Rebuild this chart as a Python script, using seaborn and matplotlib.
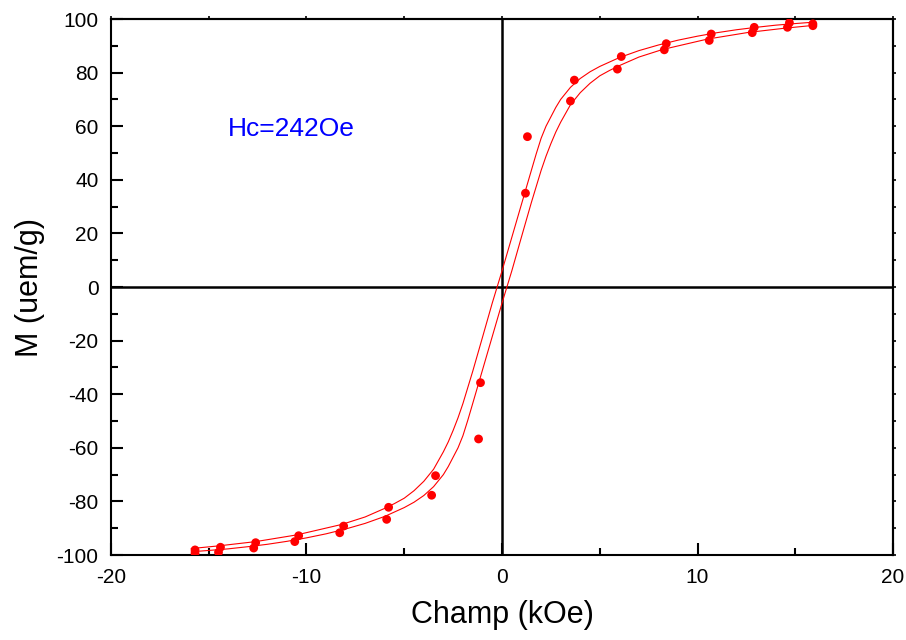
import numpy as np
import pandas as pd
import seaborn as sns
import matplotlib.pyplot as plt
from matplotlib.ticker import MultipleLocator

# measured points, descending-field branch
h_down = [15.9, 14.7, 12.9, 10.7, 8.4, 6.1, 3.7, 1.3, -1.1, -3.4, -5.8, -8.1, -10.4, -12.6, -14.4, -15.7]
m_down = [98.2, 98.6, 96.9, 94.4, 90.8, 86.0, 77.2, 56.1, -35.7, -70.4, -82.2, -89.2, -92.8, -95.4, -97.1, -98.1]
# measured points, ascending-field branch
h_up = [-15.7, -14.5, -12.7, -10.6, -8.3, -5.9, -3.6, -1.2, 1.2, 3.5, 5.9, 8.3, 10.6, 12.8, 14.6, 15.9]
m_up = [-99.4, -99.0, -97.4, -95.0, -91.7, -86.7, -77.7, -56.7, 35.0, 69.4, 81.3, 88.5, 92.0, 94.9, 96.9, 97.5]

# fitted curves
fit_a_h = [-15.9, -14.5, -12.6, -10.5, -8.2, -7.0, -6.0, -5.5, -5.0, -4.5, -4.0, -3.5, -3.0, -2.75, -2.5,
           -2.25, -2.0, -1.5, -1.0, -0.5, 0.0, 0.5, 1.0, 1.5, 1.75, 2.0, 2.25, 2.5, 2.75, 3.0, 3.5, 4.0,
           4.5, 5.0, 6.0, 7.0, 8.0, 9.0, 10.0, 11.0, 12.0, 13.0, 14.0, 15.0, 15.9]
fit_a_m = [-97.6, -96.6, -95.0, -92.5, -88.6, -85.8, -82.6, -80.8, -78.8, -76.0, -72.5, -68.0, -61.5, -57.8, -53.5,
           -48.8, -43.5, -31.5, -18.8, -6.0, 6.0, 18.5, 31.0, 43.5, 49.7, 55.5, 60.0, 63.5, 67.0, 70.0, 74.5, 77.8,
           80.3, 82.3, 85.6, 88.2, 90.3, 92.1, 93.6, 94.9, 96.0, 96.9, 97.7, 98.3, 98.8]
fit_b_h = [-15.9, -15.0, -14.0, -13.0, -12.0, -11.0, -10.0, -9.0, -8.0, -7.0, -6.0, -5.0, -4.5, -4.0,
           -3.5, -3.0, -2.75, -2.5, -2.25, -2.0, -1.75, -1.5, -1.0, -0.5, 0.0, 0.5, 1.0, 1.5, 2.0, 2.25, 2.5,
           2.75, 3.0, 3.5, 4.0, 4.5, 5.0, 5.5, 6.0, 7.0, 8.2, 10.5, 12.6, 14.5, 15.9]
fit_b_m = [-98.8, -98.3, -97.7, -96.9, -96.0, -94.9, -93.6, -92.1, -90.3, -88.2, -85.6, -82.3, -80.3, -77.8,
           -74.5, -70.0, -67.0, -63.5, -60.0, -55.5, -49.7, -43.5, -31.0, -18.5, -6.0, 6.0, 18.8, 31.5, 43.5, 48.8, 53.5,
           57.8, 61.5, 68.0, 72.5, 76.0, 78.8, 80.8, 82.6, 85.8, 88.6, 92.5, 95.0, 96.6, 97.6]

sns.set_style("ticks")
plt.rcParams['font.family'] = ['Liberation Sans', 'DejaVu Sans']
plt.rcParams['axes.unicode_minus'] = False
plt.rcParams['text.color'] = 'black'
plt.rcParams['axes.labelcolor'] = 'black'
plt.rcParams['xtick.color'] = 'black'
plt.rcParams['ytick.color'] = 'black'

fig = plt.figure(figsize=(9.06, 6.4), dpi=100)
ax = fig.add_axes([0.1225, 0.1328, 0.8632, 0.8375])

ax.axhline(0, color='black', lw=1.8, zorder=1)
ax.axvline(0, color='black', lw=1.8, zorder=1)

sns.lineplot(x=fit_a_h, y=fit_a_m, sort=False, estimator=None, color='#ff0000', lw=0.8, ax=ax, zorder=2)
sns.lineplot(x=fit_b_h, y=fit_b_m, sort=False, estimator=None, color='#ff0000', lw=0.8, ax=ax, zorder=2)

pts = pd.DataFrame({'H': h_down + h_up, 'M': m_down + m_up})
sns.scatterplot(data=pts, x='H', y='M', color='#ff0000', s=40, edgecolor='none', ax=ax, zorder=3)

ax.set_xlim(-20, 20)
ax.set_ylim(-100, 100)
ax.xaxis.set_major_locator(MultipleLocator(10))
ax.xaxis.set_minor_locator(MultipleLocator(5))
ax.yaxis.set_major_locator(MultipleLocator(20))
ax.yaxis.set_minor_locator(MultipleLocator(10))
ax.tick_params(which='major', direction='in', length=8.5, width=1.5, labelsize=15, pad=9,
               color='black', labelcolor='black')
ax.tick_params(which='minor', direction='in', length=5, width=1.5, color='black')

top = ax.secondary_xaxis('top')
top.xaxis.set_major_locator(MultipleLocator(5))
top.tick_params(direction='out', length=2, width=1.2, labeltop=False)
right = ax.secondary_yaxis('right')
right.yaxis.set_major_locator(MultipleLocator(10))
right.tick_params(direction='out', length=2, width=1.2, labelright=False)
for a in (top, right):
    for sp in a.spines.values():
        sp.set_linewidth(1.5)
        sp.set_color('black')

for sp in ax.spines.values():
    sp.set_linewidth(1.5)
    sp.set_color('black')

ax.set_xlabel("Champ (kOe)", fontsize=22, labelpad=10, color='black')
ax.set_ylabel("M (uem/g)", fontsize=22, labelpad=8, color='black')

ax.text(-14.0, 59, "Hc=242Oe", color='#0000ff', fontsize=19, va='center', ha='left')

fig.savefig("out.png", dpi=100)
